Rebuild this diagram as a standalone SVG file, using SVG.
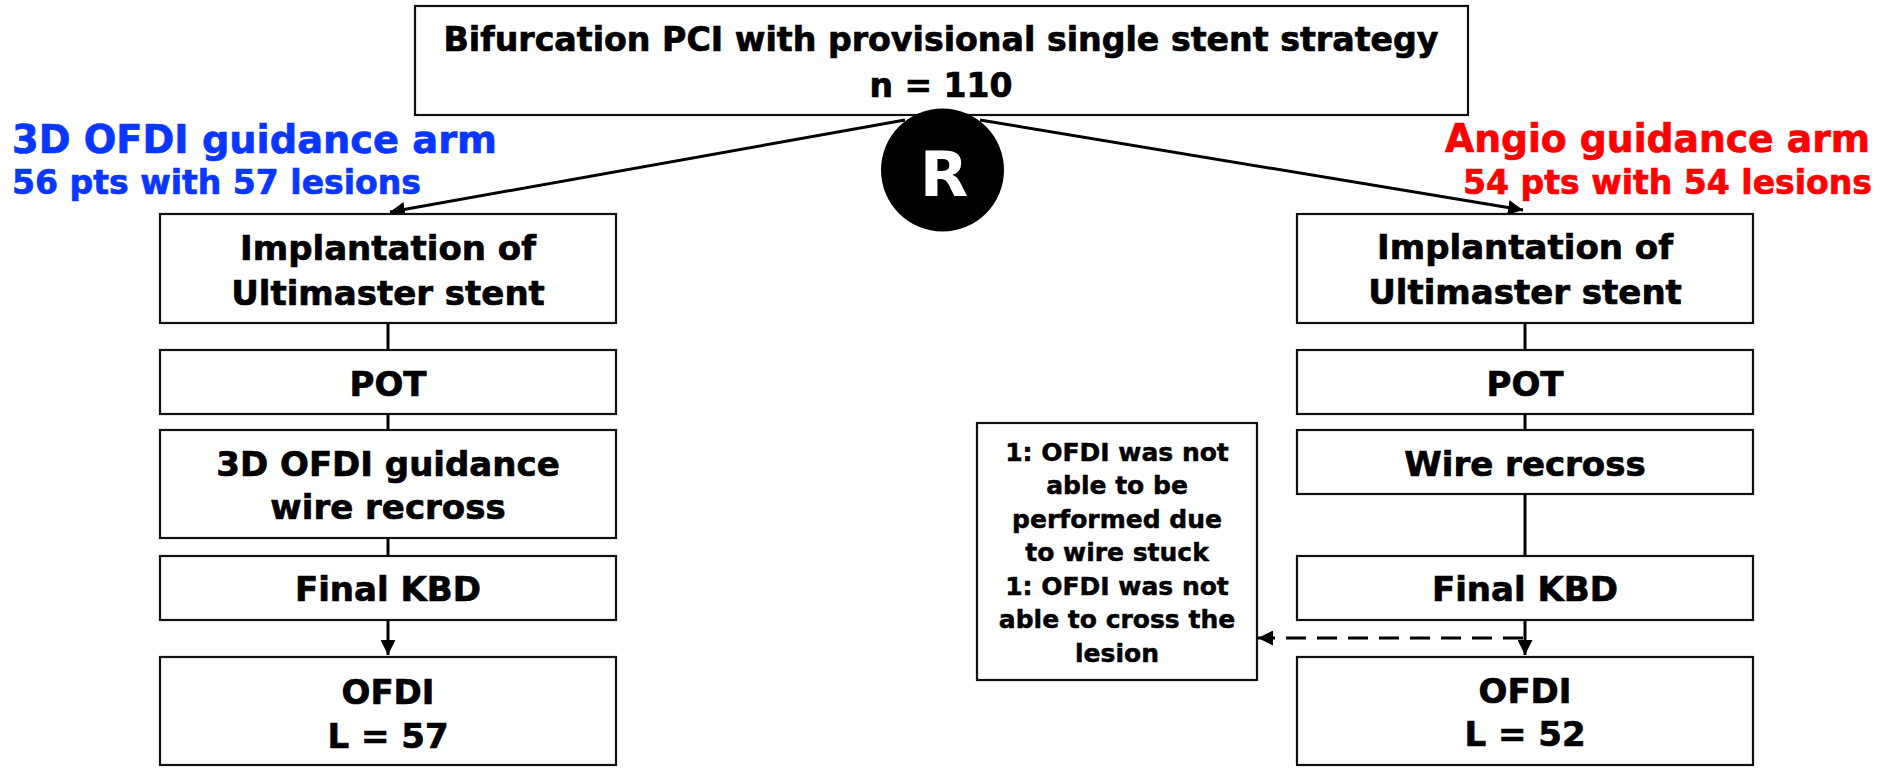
<svg xmlns="http://www.w3.org/2000/svg" width="1883" height="768" viewBox="0 0 1883 768">
<defs>
<style>
.box{fill:#fff;stroke:#111;stroke-width:2.2}
.t{font-family:"DejaVu Sans",Verdana,sans-serif;font-weight:bold;fill:#000;stroke:#000;stroke-width:0.7;text-anchor:middle}
.m{font-size:34px}
.s{font-size:25px;stroke-width:0.5}
.ln{stroke:#000;stroke-width:3;fill:none}
.blue{fill:#0a37ff;stroke:#0a37ff;stroke-width:0.7;font-family:"DejaVu Sans",Verdana,sans-serif;font-weight:bold}
.red{fill:#ff0000;stroke:#ff0000;stroke-width:0.7;font-family:"DejaVu Sans",Verdana,sans-serif;font-weight:bold;text-anchor:end}
</style>
<marker id="ah" viewBox="0 0 10 10" refX="10" refY="5" markerWidth="5" markerHeight="5" orient="auto" markerUnits="strokeWidth">
<path d="M0,0 L10,5 L0,10 z" fill="#000"/>
</marker>
</defs>
<rect width="1883" height="768" fill="#fff"/>

<g id="connectors">
<line class="ln" x1="905" y1="120" x2="390" y2="212" marker-end="url(#ah)"/>
<line class="ln" x1="980" y1="120" x2="1523" y2="210" marker-end="url(#ah)"/>
<line class="ln" x1="388" y1="323" x2="388" y2="350"/>
<line class="ln" x1="388" y1="414" x2="388" y2="430"/>
<line class="ln" x1="388" y1="538" x2="388" y2="556"/>
<line class="ln" x1="388" y1="620" x2="388" y2="655" marker-end="url(#ah)"/>
<line class="ln" x1="1525" y1="323" x2="1525" y2="350"/>
<line class="ln" x1="1525" y1="414" x2="1525" y2="430"/>
<line class="ln" x1="1525" y1="494" x2="1525" y2="556"/>
<line class="ln" x1="1525" y1="620" x2="1525" y2="655" marker-end="url(#ah)"/>
<line class="ln" x1="1523" y1="638" x2="1258" y2="638" stroke-dasharray="20,11" marker-end="url(#ah)"/>
</g>

<g id="top">
<rect class="box" x="415" y="6" width="1053" height="109"/>
<text class="t" x="941" y="51" font-size="33" textLength="995" lengthAdjust="spacingAndGlyphs">Bifurcation PCI with provisional single stent strategy</text>
<text class="t" x="941" y="97" font-size="33">n = 110</text>
</g>

<g id="randomize">
<circle cx="942.5" cy="170" r="61.5" fill="#000"/>
<text x="944" y="196" font-family="DejaVu Sans,Verdana,sans-serif" font-weight="bold" font-size="63" fill="#fff" text-anchor="middle">R</text>
</g>

<g id="label-left">
<text class="blue" x="12" y="153" font-size="39" textLength="485" lengthAdjust="spacingAndGlyphs">3D OFDI guidance arm</text>
<text class="blue" x="12" y="194" font-size="33" textLength="409" lengthAdjust="spacingAndGlyphs">56 pts with 57 lesions</text>
</g>

<g id="label-right">
<text class="red" x="1870" y="152" font-size="39" textLength="425" lengthAdjust="spacingAndGlyphs">Angio guidance arm</text>
<text class="red" x="1872" y="194" font-size="33" textLength="409" lengthAdjust="spacingAndGlyphs">54 pts with 54 lesions</text>
</g>

<g id="l-implant">
<rect class="box" x="160" y="214" width="456" height="109"/>
<text class="t m" x="388" y="260">Implantation of</text>
<text class="t m" x="388" y="305">Ultimaster stent</text>
</g>
<g id="l-pot">
<rect class="box" x="160" y="350" width="456" height="64"/>
<text class="t m" x="388" y="396">POT</text>
</g>
<g id="l-wire">
<rect class="box" x="160" y="430" width="456" height="108"/>
<text class="t m" x="388" y="476">3D OFDI guidance</text>
<text class="t m" x="388" y="519">wire recross</text>
</g>
<g id="l-kbd">
<rect class="box" x="160" y="556" width="456" height="64"/>
<text class="t m" x="388" y="601">Final KBD</text>
</g>
<g id="l-ofdi">
<rect class="box" x="160" y="657" width="456" height="108"/>
<text class="t m" x="388" y="704">OFDI</text>
<text class="t m" x="388" y="748">L = 57</text>
</g>

<g id="r-implant">
<rect class="box" x="1297" y="214" width="456" height="109"/>
<text class="t m" x="1525" y="259">Implantation of</text>
<text class="t m" x="1525" y="304">Ultimaster stent</text>
</g>
<g id="r-pot">
<rect class="box" x="1297" y="350" width="456" height="64"/>
<text class="t m" x="1525" y="396">POT</text>
</g>
<g id="r-wire">
<rect class="box" x="1297" y="430" width="456" height="64"/>
<text class="t m" x="1525" y="476">Wire recross</text>
</g>
<g id="r-kbd">
<rect class="box" x="1297" y="556" width="456" height="64"/>
<text class="t m" x="1525" y="601">Final KBD</text>
</g>
<g id="r-ofdi">
<rect class="box" x="1297" y="657" width="456" height="108"/>
<text class="t m" x="1525" y="703">OFDI</text>
<text class="t m" x="1525" y="746">L = 52</text>
</g>

<g id="note">
<rect class="box" x="977" y="423" width="280" height="257"/>
<text class="t s" x="1117" y="461">1: OFDI was not</text>
<text class="t s" x="1117" y="494">able to be</text>
<text class="t s" x="1117" y="528">performed due</text>
<text class="t s" x="1117" y="561">to wire stuck</text>
<text class="t s" x="1117" y="595">1: OFDI was not</text>
<text class="t s" x="1117" y="628">able to cross the</text>
<text class="t s" x="1117" y="662">lesion</text>
</g>
</svg>
